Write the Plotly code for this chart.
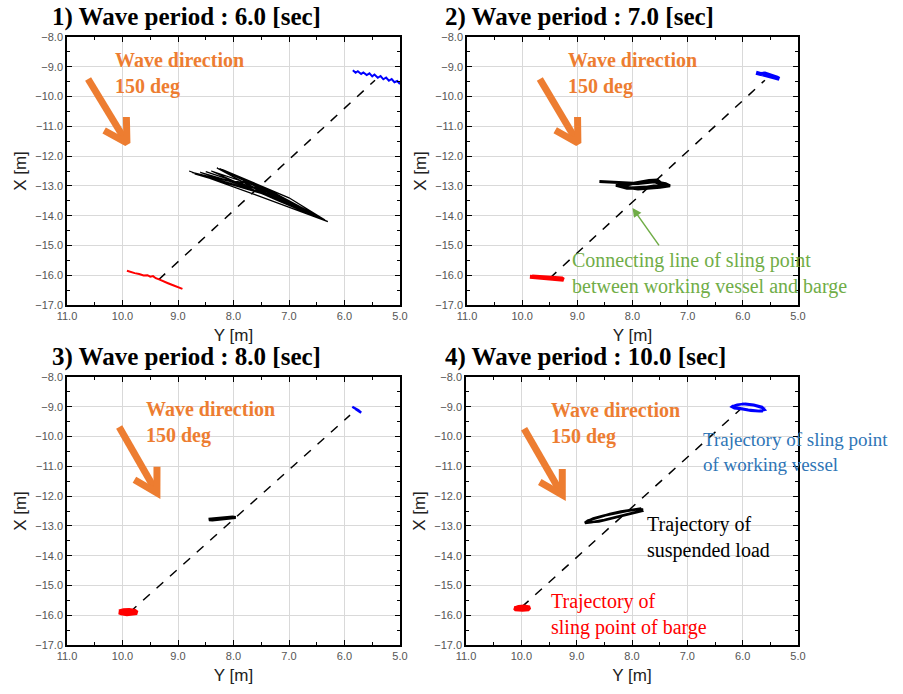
import numpy as np
import plotly.graph_objects as go
from plotly.subplots import make_subplots

# ---------------- DATA ----------------
titles = ["1) Wave period : 6.0 [sec]", "2) Wave period : 7.0 [sec]",
          "3) Wave period : 8.0 [sec]", "4) Wave period : 10.0 [sec]"]

x_ticks = [11.0, 10.0, 9.0, 8.0, 7.0, 6.0, 5.0]
y_ticks = [-8.0, -9.0, -10.0, -11.0, -12.0, -13.0, -14.0, -15.0, -16.0, -17.0]

# Panel 1 (6.0 s)
p1_vessel_Y = [5.85, 5.80, 5.76, 5.70, 5.66, 5.60, 5.55, 5.50, 5.46, 5.40, 5.35, 5.30, 5.25, 5.20, 5.15, 5.10, 5.05, 5.00]
p1_vessel_X = [-9.12, -9.20, -9.15, -9.24, -9.19, -9.28, -9.22, -9.32, -9.26, -9.37, -9.31, -9.42, -9.36, -9.47, -9.41, -9.52, -9.48, -9.58]
p1_barge_Y = [9.92, 9.85, 9.78, 9.70, 9.62, 9.55, 9.50, 9.45, 9.40, 9.33, 9.25, 9.18, 9.10, 9.02, 8.95, 8.92]
p1_barge_X = [-15.85, -15.90, -15.93, -15.96, -16.01, -16.00, -16.05, -16.03, -16.10, -16.15, -16.20, -16.27, -16.33, -16.38, -16.43, -16.46]
p1_load_Y = [8.80, 7.60, 6.30, 7.40, 8.30, 7.10, 6.40, 7.50, 8.75, 7.70, 6.60, 7.30, 8.20, 7.00, 6.35, 7.40,
             8.60, 7.90, 6.80, 7.60, 8.40, 7.20, 6.50, 7.80, 8.70, 7.50, 6.45, 7.35, 8.25, 7.05, 6.55, 7.65, 8.50]
p1_load_X = [-12.50, -13.30, -14.20, -13.30, -12.40, -13.40, -14.10, -13.10, -12.55, -13.10, -13.90, -13.20, -12.45, -13.40, -14.15, -13.20,
             -12.55, -12.95, -13.70, -13.00, -12.50, -13.50, -14.05, -12.90, -12.60, -13.25, -14.05, -13.25, -12.42, -13.45, -13.95, -13.05, -12.52]
p1_line_Y = [9.35, 5.45]
p1_line_X = [-16.15, -9.45]

# Panel 2 (7.0 s)
p2_vessel_Y = [5.76, 5.68, 5.60, 5.52, 5.45, 5.38, 5.34, 5.40, 5.48, 5.56, 5.64, 5.72]
p2_vessel_X = [-9.20, -9.24, -9.23, -9.27, -9.32, -9.36, -9.40, -9.37, -9.31, -9.28, -9.26, -9.22]
p2_barge_Y = [9.86, 9.75, 9.62, 9.50, 9.38, 9.25, 9.28, 9.42, 9.56, 9.70, 9.82]
p2_barge_X = [-16.05, -16.07, -16.10, -16.13, -16.15, -16.15, -16.11, -16.10, -16.08, -16.06, -16.04]
p2_load_Y = [8.60, 8.20, 7.90, 7.60, 7.40, 7.32, 7.50, 7.90, 8.20, 8.00, 7.70, 7.55, 7.45, 7.80, 8.10, 8.30, 7.95, 7.60, 7.40, 7.70, 8.05, 8.25]
p2_load_X = [-12.85, -12.88, -12.92, -12.86, -12.93, -13.00, -13.05, -13.10, -13.02, -12.92, -12.82, -12.80, -12.95, -13.06, -13.08, -12.98, -12.90, -12.86, -12.98, -13.04, -13.07, -12.95]
p2_line_Y = [9.50, 5.60]
p2_line_X = [-16.10, -9.45]

# Panel 3 (8.0 s)
p3_vessel_Y = [5.86, 5.80, 5.75, 5.70, 5.74, 5.80]
p3_vessel_X = [-9.00, -9.06, -9.12, -9.20, -9.14, -9.07]
p3_barge_Y = [10.06, 9.98, 9.88, 9.78, 9.74, 9.82, 9.92, 10.02, 10.06, 9.95, 9.84]
p3_barge_X = [-15.88, -15.84, -15.83, -15.86, -15.92, -15.95, -15.96, -15.93, -15.90, -15.87, -15.90]
p3_load_Y = [8.45, 8.30, 8.15, 8.02, 7.96, 8.05, 8.20, 8.38, 8.44]
p3_load_X = [-12.78, -12.76, -12.73, -12.70, -12.72, -12.74, -12.77, -12.80, -12.79]
p3_line_Y = [9.87, 5.90]
p3_line_X = [-15.90, -9.28]

# Panel 4 (10.0 s)
p4_vessel_Y = [6.20, 6.10, 5.95, 5.80, 5.65, 5.60, 5.70, 5.85, 6.00, 6.15, 6.20, 6.18, 6.00, 5.80, 5.62, 5.65, 5.90, 6.10, 6.19]
p4_vessel_X = [-9.00, -8.93, -8.90, -8.93, -9.00, -9.10, -9.15, -9.13, -9.08, -9.05, -9.00, -8.97, -8.91, -8.95, -9.05, -9.15, -9.10, -9.04, -9.00]
p4_barge_Y = [10.12, 10.05, 9.95, 9.85, 9.88, 9.98, 10.10, 10.12, 10.02, 9.90]
p4_barge_X = [-15.77, -15.72, -15.71, -15.74, -15.80, -15.82, -15.80, -15.76, -15.73, -15.76]
p4_load_Y = [8.85, 8.70, 8.50, 8.30, 8.10, 7.90, 7.80, 7.90, 8.10, 8.30, 8.50, 8.70, 8.85,
             8.80, 8.60, 8.40, 8.20, 8.00, 7.85, 7.82, 8.00, 8.20, 8.40, 8.60, 8.80]
p4_load_X = [-12.88, -12.75, -12.65, -12.57, -12.50, -12.44, -12.45, -12.52, -12.62, -12.72, -12.80, -12.87, -12.90,
             -12.82, -12.70, -12.60, -12.52, -12.46, -12.42, -12.50, -12.58, -12.68, -12.77, -12.85, -12.88]
p4_line_Y = [9.99, 6.05]
p4_line_X = [-15.72, -9.10]

panels = [
    (p1_vessel_Y, p1_vessel_X, p1_barge_Y, p1_barge_X, p1_load_Y, p1_load_X, p1_line_Y, p1_line_X),
    (p2_vessel_Y, p2_vessel_X, p2_barge_Y, p2_barge_X, p2_load_Y, p2_load_X, p2_line_Y, p2_line_X),
    (p3_vessel_Y, p3_vessel_X, p3_barge_Y, p3_barge_X, p3_load_Y, p3_load_X, p3_line_Y, p3_line_X),
    (p4_vessel_Y, p4_vessel_X, p4_barge_Y, p4_barge_X, p4_load_Y, p4_load_X, p4_line_Y, p4_line_X),
]

wave_label = "Wave direction<br>150 deg"

# ---------------- LAYOUT / STYLE ----------------
W, H = 903, 694
# plot areas in screen pixels: (left, right, top, bottom)
areas = [(67, 400, 37, 305), (467, 798, 37, 305), (67, 400, 377, 645), (466, 798, 377, 645)]
title_pos = [(50, 17), (443, 17), (50, 357), (443, 357)]
# Orange wave text anchor (Y, X) and arrow tail/head in data coords
wave_text_pos = [(10.17, -9.24), (9.20, -9.24), (9.61, -9.54), (9.50, -9.56)]
wave_arrow = [((10.62, -9.41), (9.92, -11.56)), ((9.68, -9.41), (8.99, -11.56)),
              ((10.06, -9.68), (9.38, -11.89)), ((9.95, -9.74), (9.26, -11.96))]
vessel_w = [2.0, 4.0, 2.5, 2.5]
barge_w = [2.0, 4.0, 4.5, 4.0]
load_w = [1.3, 3.0, 3.0, 2.5]

ORANGE = "#ED7D31"
SERIF = "Liberation Serif"
SANS = "Liberation Sans"

fig = make_subplots(rows=2, cols=2)

for i, (vY, vX, bY, bX, lY, lX, cY, cX) in enumerate(panels):
    r, c = i // 2 + 1, i % 2 + 1
    fig.add_trace(go.Scatter(x=cY, y=cX, mode="lines", line=dict(color="black", width=1.5, dash="dash"),
                             showlegend=False), row=r, col=c)
    fig.add_trace(go.Scatter(x=lY, y=lX, mode="lines", line=dict(color="black", width=load_w[i]),
                             showlegend=False), row=r, col=c)
    fig.add_trace(go.Scatter(x=vY, y=vX, mode="lines", line=dict(color="#0000FF", width=vessel_w[i]),
                             showlegend=False), row=r, col=c)
    fig.add_trace(go.Scatter(x=bY, y=bX, mode="lines", line=dict(color="#FF0000", width=barge_w[i]),
                             showlegend=False), row=r, col=c)

    # orange arrow (shaft + chevron) in pixel-consistent geometry
    (t_y, t_x), (h_y, h_x) = wave_arrow[i]
    l, rr, tp, bt = areas[i]
    sx = (rr - l) / 6.0
    sy = (bt - tp) / 9.0
    dpx = np.array([-(h_y - t_y) * sx, -(h_x - t_x) * sy])
    dpx = dpx / np.linalg.norm(dpx)
    wing_len = 26.0
    wings = []
    for ang in (np.deg2rad(150), np.deg2rad(-150)):
        rot = np.array([[np.cos(ang), -np.sin(ang)], [np.sin(ang), np.cos(ang)]])
        w = rot @ dpx * wing_len
        wings.append((h_y - w[0] / sx, h_x - w[1] / sy))
    ax_Y = [t_y, h_y, None, wings[0][0], h_y, wings[1][0]]
    ax_X = [t_x, h_x, None, wings[0][1], h_x, wings[1][1]]
    fig.add_trace(go.Scatter(x=ax_Y, y=ax_X, mode="lines", line=dict(color=ORANGE, width=7),
                             showlegend=False, hoverinfo="skip"), row=r, col=c)

    xa = "xaxis" if i == 0 else f"xaxis{i+1}"
    ya = "yaxis" if i == 0 else f"yaxis{i+1}"
    xr = "x" if i == 0 else f"x{i+1}"
    yr = "y" if i == 0 else f"y{i+1}"
    fig.layout[xa].update(domain=[l / W, rr / W], range=[11.0, 5.0], tickvals=x_ticks, automargin=False,
                          tickformat=".1f", showgrid=True, gridcolor="#d9d9d9", gridwidth=1,
                          zeroline=False, showline=True, linecolor="black", linewidth=1.5,
                          mirror="allticks", ticks="inside", ticklen=5, tickcolor="black",
                          minor=dict(dtick=0.5, ticks="inside", ticklen=3, tickcolor="black", showgrid=False),
                          tickfont=dict(family=SANS, size=11, color="#555"),
                          title=dict(text="Y [m]", font=dict(family=SANS, size=17, color="#222"), standoff=8))
    fig.layout[ya].update(domain=[1 - bt / H, 1 - tp / H], range=[-17.0, -8.0], tickvals=y_ticks, automargin=False,
                          tickformat=".1f", showgrid=True, gridcolor="#d9d9d9", gridwidth=1,
                          zeroline=False, showline=True, linecolor="black", linewidth=1.5,
                          mirror="allticks", ticks="inside", ticklen=5, tickcolor="black",
                          minor=dict(dtick=0.5, ticks="inside", ticklen=3, tickcolor="black", showgrid=False),
                          tickfont=dict(family=SANS, size=11, color="#555"),
                          title=dict(text="X [m]", font=dict(family=SANS, size=17, color="#222"), standoff=4))

    # title
    tx, ty = title_pos[i]
    fig.add_annotation(x=tx / W, y=1 - ty / H, xref="paper", yref="paper",
                       text="<b>" + titles[i] + "</b>",
                       showarrow=False, xanchor="left", yanchor="middle",
                       font=dict(family=SERIF, size=25, color="black"))
    # wave direction text
    wy, wx = wave_text_pos[i]
    fig.add_annotation(x=wy, y=wx, xref=xr, yref=yr, text="<b>" + wave_label + "</b>", showarrow=False,
                       xanchor="left", yanchor="middle", align="left",
                       font=dict(family=SERIF, size=20, color=ORANGE))

# Panel 2 green callout
fig.add_annotation(x=8.0, y=-13.74, ax=7.5, ay=-15.05, xref="x2", yref="y2", axref="x2", ayref="y2",
                   text="", showarrow=True, arrowhead=2, arrowsize=1.2, arrowwidth=1.5, arrowcolor="#70AD47")
fig.add_annotation(x=9.13, y=-15.95, xref="x2", yref="y2",
                   text="Connecting line of sling point<br>between working vessel and barge",
                   showarrow=False, xanchor="left", yanchor="middle", align="left",
                   font=dict(family=SERIF, size=20, color="#70AD47"))

# Panel 4 labels
fig.add_annotation(x=6.75, y=-10.53, xref="x4", yref="y4",
                   text="Trajectory of sling point<br>of working vessel",
                   showarrow=False, xanchor="left", yanchor="middle", align="left",
                   font=dict(family=SERIF, size=19, color="#2E75B6"))
fig.add_annotation(x=7.76, y=-13.39, xref="x4", yref="y4",
                   text="Trajectory of<br>suspended load",
                   showarrow=False, xanchor="left", yanchor="middle", align="left",
                   font=dict(family=SERIF, size=20, color="black"))
fig.add_annotation(x=9.50, y=-15.97, xref="x4", yref="y4",
                   text="Trajectory of<br>sling point of barge",
                   showarrow=False, xanchor="left", yanchor="middle", align="left",
                   font=dict(family=SERIF, size=20, color="#FF0000"))

fig.update_layout(width=W, height=H, margin=dict(l=0, r=0, t=0, b=0),
                  paper_bgcolor="white", plot_bgcolor="white", showlegend=False)

fig.write_html("out.html", config={"displayModeBar": False},
               post_script="document.body.style.margin='0px';")
